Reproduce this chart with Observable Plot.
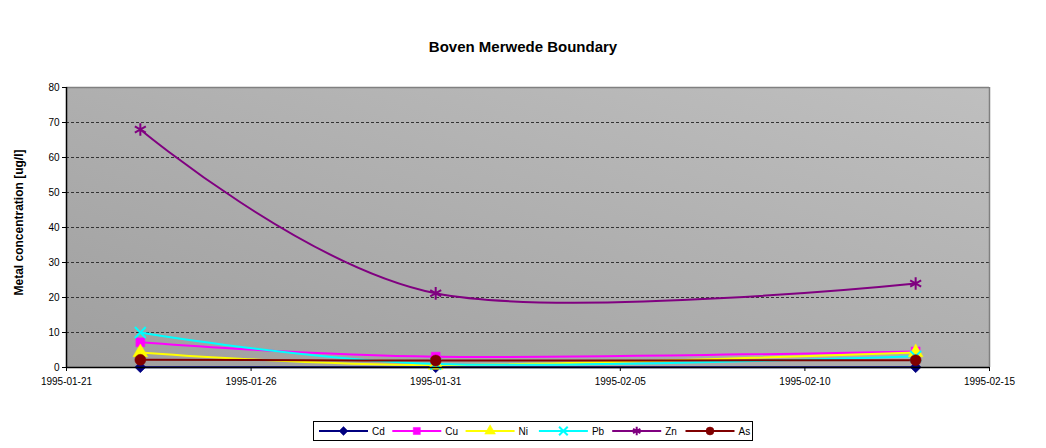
<!DOCTYPE html>
<html>
<head>
<meta charset="utf-8">
<script src="https://cdn.jsdelivr.net/npm/d3@7"></script>
<script src="https://cdn.jsdelivr.net/npm/@observablehq/plot@0.6"></script>
<style>
  body { margin: 0; background: #fff; font-family: Arial, "Liberation Sans", sans-serif; }
  #wrap { position: relative; width: 1046px; height: 448px; }
  #title { position: absolute; top: 38px; left: 0; width: 1046px; text-align: center; font: bold 15px Arial, "Liberation Sans", sans-serif; color: #000; }
  #chart { position: absolute; top: 70px; left: 0; }
  #legend { position: absolute; top: 421px; left: 313px; }
</style>
</head>
<body>
<div id="wrap">
  <div id="title">Boven Merwede Boundary</div>
  <div id="chart"></div>
  <div id="legend"></div>
</div>
<script>
const dates = ["1995-01-23", "1995-01-31", "1995-02-13"];
const seriesNames = ["Cd", "Cu", "Ni", "Pb", "Zn", "As"];
const Cd = [0.1, 0.1, 0.1];
const Cu = [7.2, 3.1, 4.6];
const Ni = [4.3, 0.7, 4.3];
const Pb = [10, 1.0, 3.2];
const Zn = [68, 21.2, 24];
const As = [2.2, 2.0, 2.1];
const xTicks = ["1995-01-21", "1995-01-26", "1995-01-31", "1995-02-05", "1995-02-10", "1995-02-15"];
const yTicks = [0, 10, 20, 30, 40, 50, 60, 70, 80];
const yLabel = "Metal concentration [ug/l]";

const colors = ["#000080", "#FF00FF", "#FFFF00", "#00FFFF", "#800080", "#800000"];
const symbols = ["diamond2", "square", "triangle", "times", "asterisk", "circle"];
const filled = [true, true, true, false, false, true];
const radii = [5, 5, 5.5, 5, 6, 5.5];

const valuesBySeries = {Cd, Cu, Ni, Pb, Zn, As};
const parse = d3.utcParse("%Y-%m-%d");
const table = [];
seriesNames.forEach(s => {
  valuesBySeries[s].forEach((v, i) => table.push({series: s, date: parse(dates[i]), value: v}));
});

const xTickDates = xTicks.map(parse);

const marks = [
  Plot.frame({fill: "url(#bgGrad)", stroke: "none"}),
  Plot.ruleY(yTicks.filter(t => t > 0 && t < 80), {stroke: "#333", strokeDasharray: "3,2", strokeWidth: 1}),
  Plot.ruleY([80], {stroke: "#808080", strokeWidth: 1.5}),
  Plot.ruleX([xTickDates[xTickDates.length - 1]], {stroke: "#808080", strokeWidth: 1.5}),
  Plot.axisX({ticks: xTickDates, tickFormat: d3.utcFormat("%Y-%m-%d"), tickSize: 4, tickPadding: 6, fontSize: 10, label: null}),
  Plot.axisY({ticks: yTicks, tickSize: 4, tickPadding: 3, fontSize: 10, label: null}),
  Plot.text([yLabel], {frameAnchor: "left", textAnchor: "middle", dx: -47, dy: -5, rotate: -90, fontWeight: "bold", fontSize: 12, fill: "#000", letterSpacing: "1.2px"}),
];

seriesNames.forEach((s, i) => {
  const data = table.filter(d => d.series === s);
  marks.push(Plot.line(data, {x: "date", y: "value", stroke: colors[i], strokeWidth: 2, curve: "cardinal"}));
});
seriesNames.forEach((s, i) => {
  const data = table.filter(d => d.series === s);
  marks.push(Plot.dot(data, {
    x: "date", y: "value", symbol: () => symbols[i], r: radii[i],
    fill: filled[i] ? colors[i] : "none",
    stroke: colors[i], strokeWidth: filled[i] ? 0.5 : 2
  }));
});
marks.push(Plot.ruleY([0], {stroke: "#000", strokeWidth: 1.5}));
marks.push(Plot.ruleX([xTickDates[0]], {stroke: "#000", strokeWidth: 1.5}));

const plot = Plot.plot({
  width: 1046,
  height: 330,
  marginLeft: 66,
  marginRight: 57,
  marginTop: 17,
  marginBottom: 33,
  style: {fontFamily: "Arial, 'Liberation Sans', sans-serif", color: "#000", background: "transparent"},
  x: {type: "utc", domain: [xTickDates[0], xTickDates[xTickDates.length - 1]]},
  y: {domain: [0, 80]},
  symbol: {type: "identity"},
  marks
});

d3.select(plot).insert("defs", ":first-child").html(
  '<linearGradient id="bgGrad" x1="0" y1="1" x2="1" y2="0">' +
  '<stop offset="0" stop-color="#9f9f9f"/><stop offset="1" stop-color="#bfbfbf"/></linearGradient>'
);
document.getElementById("chart").appendChild(plot);

// Legend
const lw = 439, lh = 19;
const leg = d3.select("#legend").append("svg").attr("width", lw + 2).attr("height", lh + 2);
leg.append("rect").attr("x", 0.5).attr("y", 0.5).attr("width", lw).attr("height", lh)
  .attr("fill", "#fff").attr("stroke", "#000").attr("stroke-width", 1);
const symMap = {diamond2: d3.symbolDiamond2, square: d3.symbolSquare, triangle: d3.symbolTriangle,
  times: d3.symbolTimes, asterisk: d3.symbolAsterisk, circle: d3.symbolCircle};
seriesNames.forEach((s, i) => {
  const x0 = 6 + i * 73.3;
  const g = leg.append("g").attr("transform", `translate(${x0},${lh / 2 + 0.5})`);
  g.append("line").attr("x1", 0).attr("x2", 49).attr("y1", 0).attr("y2", 0).attr("stroke", colors[i]).attr("stroke-width", 2);
  g.append("path").attr("transform", "translate(24.5,0)")
    .attr("d", d3.symbol(symMap[symbols[i]], Math.PI * 16)())
    .attr("fill", filled[i] ? colors[i] : "none")
    .attr("stroke", colors[i]).attr("stroke-width", filled[i] ? 0.5 : 2);
  g.append("text").attr("x", 53).attr("y", 0).attr("dy", "0.35em")
    .attr("font-size", 10).attr("font-family", "Arial, 'Liberation Sans', sans-serif").text(s);
});
</script>
</body>
</html>
